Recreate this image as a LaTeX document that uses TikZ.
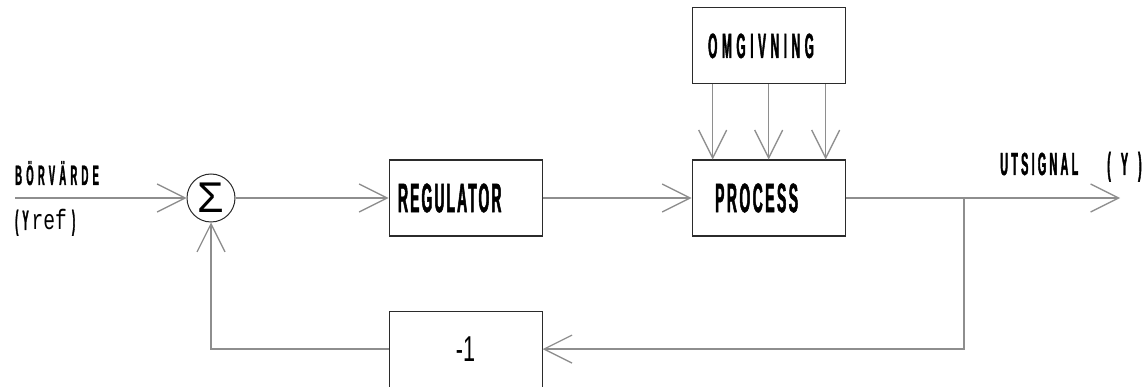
\documentclass[tikz,border=0pt]{standalone}
\usepackage{fontspec}
\usepackage{tikz}
\usetikzlibrary{arrows.meta,positioning}
\definecolor{ink}{HTML}{2B2B2B}
\definecolor{pencil}{HTML}{8E8E8E}
\newfontfamily\lettering{Liberation Sans}[FakeStretch=0.34,LetterSpace=5,FakeBold=1.2]
\newfontfamily\thinlettering{Liberation Sans}[FakeStretch=0.6]
\newfontfamily\plainsans{Liberation Sans}
\newfontfamily\typed{Liberation Mono}[FakeStretch=0.7]

\begin{document}
\begin{tikzpicture}[
  x=1pt, y=-1pt,
  blk/.style={draw=ink, line width=1.1pt, minimum width=153pt, minimum height=76pt, inner sep=0pt, font=\lettering\bfseries\fontsize{41}{43}\selectfont},
  sum/.style={draw=ink, line width=1pt, circle, minimum size=48pt, inner sep=0pt, font=\plainsans\fontsize{43}{45}\selectfont},
  lbl/.style={anchor=base west, inner sep=0pt, font=\lettering\bfseries\fontsize{28}{30}\selectfont},
  arr/.style={-{Straight Barb[length=28pt, width=28pt, line width=1.3pt]}, line width=1.3pt, color=pencil},
  node distance=75pt
]
  \path[use as bounding box, clip] (0,0) rectangle (1148,387);
  \node[sum] (sum) at (211,198) {Σ};
  \node[blk, right=153pt of sum, inner xsep=9pt, text width=135pt, align=left] (reg) {REGULATOR};
  \node[blk, right=149pt of reg, inner xsep=23pt, text width=107pt, align=left, font=\lettering\bfseries\fontsize{41}{43}\selectfont\addfontfeature{LetterSpace=6}] (proc) {PROCESS};
  \node[blk, above=of proc, inner xsep=16pt, text width=121pt, align=left, font=\lettering\bfseries\fontsize{35}{37}\selectfont\addfontfeature{LetterSpace=13}] (omg) {OMGIVNING};
  \node[blk, below=74pt of reg, font=\thinlettering\fontsize{36}{38}\selectfont] (neg) {-1\hspace{12pt}};
  \coordinate (in) at (15,198);
  \coordinate (tap) at (964,198);
  \coordinate (out) at (1120,198);
  \node[lbl, font=\lettering\bfseries\fontsize{28}{30}\selectfont\addfontfeature{LetterSpace=15}] (bor) at (15,185) {BÖRVÄRDE};
  \node[lbl] (yref) at (15,230) {(\hspace{4pt}Y\hspace{3pt}{\typed\mdseries ref}\hspace{5pt})};
  \node[lbl, font=\lettering\bfseries\fontsize{32}{34}\selectfont\addfontfeature{LetterSpace=10}] (utsig) at (1000,175) {UTSIGNAL};
  \node[lbl, font=\lettering\bfseries\fontsize{32}{34}\selectfont] (yout) at (1107,175) {(\hspace{10pt}Y\hspace{10pt})};
  \draw[arr] (in) -- (sum);
  \draw[arr] (sum) -- (reg);
  \draw[arr] (reg) -- (proc);
  \foreach \dx in {-56,0,57}
    \draw[arr] ([xshift=\dx pt]omg.south) -- ([xshift=\dx pt]proc.north);
  \draw[arr] (proc) -- (out);
  \draw[arr] (tap) |- (neg);
  \draw[arr] (neg) -| (sum);
\end{tikzpicture}
\end{document}
